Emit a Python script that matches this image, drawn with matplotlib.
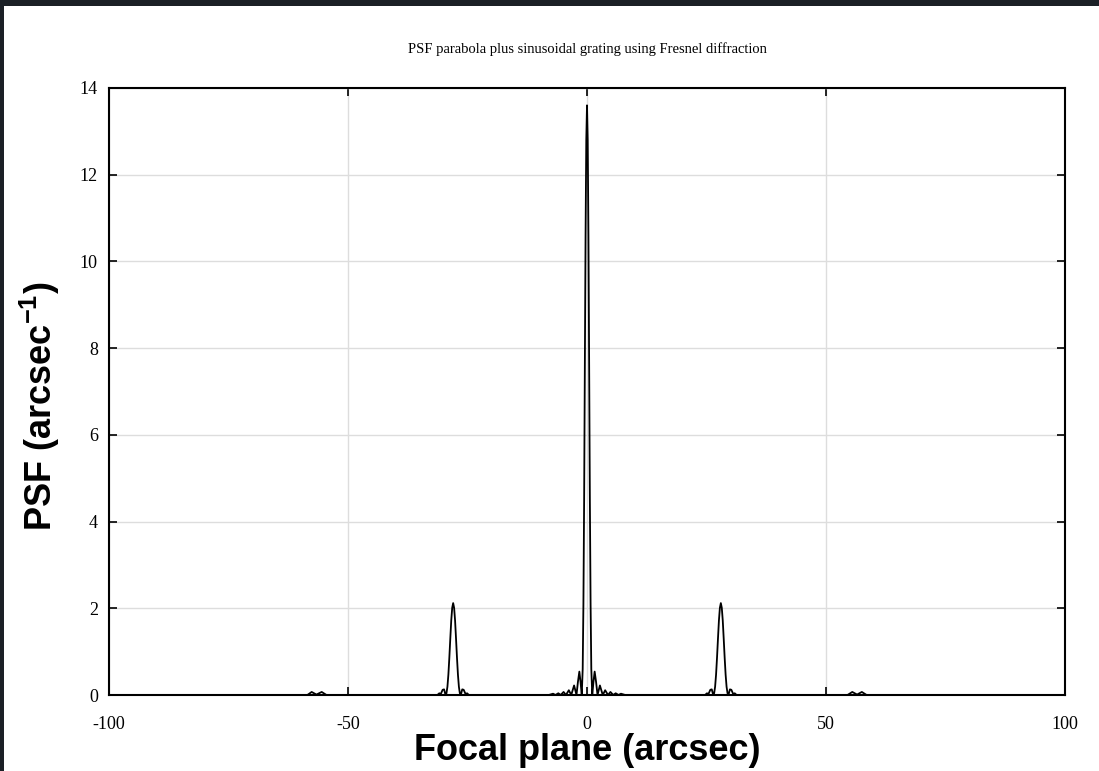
import matplotlib
matplotlib.use("Agg")
import matplotlib.pyplot as plt
from matplotlib.patches import Rectangle

plt.rcParams["mathtext.fontset"] = "custom"
plt.rcParams["mathtext.bf"] = "Liberation Sans:bold"
plt.rcParams["mathtext.rm"] = "Liberation Sans:bold"
plt.rcParams["mathtext.default"] = "bf"
plt.rcParams["axes.unicode_minus"] = False

# PSF profile (focal plane arcsec, PSF arcsec^-1)
focal_x = [
    -100, -59.0,
    -58.5, -57.6, -56.6, -55.5, -54.5,
    -31.3, -30.9, -30.6, -30.2, -29.9, -29.6, -29.4, -29.2, -29.0, -28.8,
    -28.6, -28.4, -28.2, -28.0, -27.8, -27.6, -27.4, -27.2, -27.0, -26.8,
    -26.6, -26.4, -26.1, -25.8, -25.4, -25.1, -24.7,
    -8.0, -7.1, -6.6, -6.0, -5.5, -4.9, -4.4, -3.8, -3.3, -2.7, -2.2, -1.9,
    -1.6, -1.35, -1.1, -0.9, -0.75, -0.6, -0.45, -0.3, -0.15, 0.0,
    0.15, 0.3, 0.45, 0.6, 0.75, 0.9, 1.1, 1.35, 1.6, 1.9, 2.2, 2.7, 3.3,
    3.8, 4.4, 4.9, 5.5, 6.0, 6.6, 7.1, 8.0,
    24.7, 25.1, 25.4, 25.8, 26.1, 26.4, 26.6, 26.8, 27.0, 27.2, 27.4, 27.6,
    27.8, 28.0, 28.2, 28.4, 28.6, 28.8, 29.0, 29.2, 29.4, 29.6, 29.9, 30.2,
    30.6, 30.9, 31.3,
    54.5, 55.5, 56.5, 57.5, 58.5,
    59.0, 100,
]
psf_y = [
    0.0, 0.0,
    0.0, 0.07, 0.01, 0.07, 0.0,
    0.0, 0.04, 0.02, 0.12, 0.13, 0.0, 0.04, 0.19, 0.47, 0.86,
    1.30, 1.72, 2.01, 2.12, 2.01, 1.72, 1.30, 0.86, 0.47, 0.19,
    0.04, 0.0, 0.13, 0.12, 0.02, 0.04, 0.0,
    0.0, 0.03, 0.0, 0.04, 0.0, 0.07, 0.0, 0.11, 0.0, 0.22, 0.0, 0.30,
    0.54, 0.30, 0.0, 0.6, 2.1, 4.5, 7.6, 10.6, 12.8, 13.6,
    12.8, 10.6, 7.6, 4.5, 2.1, 0.6, 0.0, 0.30, 0.54, 0.30, 0.0, 0.22, 0.0,
    0.11, 0.0, 0.07, 0.0, 0.04, 0.0, 0.03, 0.0,
    0.0, 0.04, 0.02, 0.12, 0.13, 0.0, 0.04, 0.19, 0.47, 0.86, 1.30, 1.72,
    2.01, 2.12, 2.01, 1.72, 1.30, 0.86, 0.47, 0.19, 0.04, 0.0, 0.13, 0.12,
    0.02, 0.04, 0.0,
    0.0, 0.07, 0.01, 0.07, 0.0,
    0.0, 0.0,
]

x_ticks = [-100, -50, 0, 50, 100]
y_ticks = [0, 2, 4, 6, 8, 10, 12, 14]


def plot_psf() -> None:
    """
    Plot the PSF of a parabola plus sinusoidal grating
    """
    fig = plt.figure(figsize=(10.99, 7.71), dpi=100, facecolor="#1b2026")
    fig.patches.append(
        Rectangle((4 / 1099, 0), 1, 1 - 6 / 771, transform=fig.transFigure,
                  facecolor="white", edgecolor="none", zorder=-10)
    )
    ax = fig.add_axes([109 / 1099, 1 - 695 / 771, 956 / 1099, 607 / 771])

    ax.plot(focal_x, psf_y, color="black", linewidth=1.3, zorder=3)

    ax.set_xlim(-100, 100)
    ax.set_ylim(0, 14)
    ax.set_xticks(x_ticks)
    ax.set_yticks(y_ticks)
    ax.grid(True, color="#dddddd", linewidth=1.0, zorder=0)
    ax.tick_params(direction="in", length=6, width=1.2, top=True, right=True,
                   labelsize=13)
    ax.tick_params(axis="x", pad=15)
    ax.tick_params(axis="y", pad=8)
    for label in ax.get_xticklabels() + ax.get_yticklabels():
        label.set_family("Liberation Serif")
    for spine in ax.spines.values():
        spine.set_linewidth(1.5)

    ax.set_title("PSF parabola plus sinusoidal grating using Fresnel diffraction",
                 family="Liberation Serif", fontsize=10.5, pad=25)
    ax.set_xlabel("Focal plane (arcsec)", family="Liberation Sans",
                  fontweight="bold", fontsize=26, labelpad=0)
    ax.set_ylabel("PSF (arcsec$^{-1}$)", family="Liberation Sans",
                  fontweight="bold", fontsize=26)
    ax.yaxis.set_label_coords(-0.049, 0.475)

    plt.savefig("out.png", dpi=100, facecolor=fig.get_facecolor())


if __name__ == "__main__":
    plot_psf()
